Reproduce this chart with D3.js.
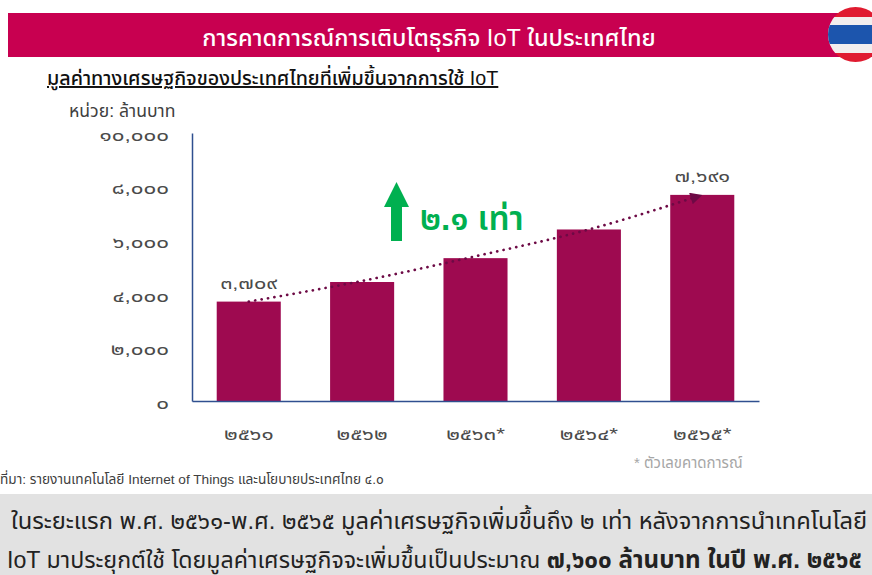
<!DOCTYPE html>
<html>
<head>
<meta charset="utf-8">
<script src="https://cdnjs.cloudflare.com/ajax/libs/d3/7.8.5/d3.min.js"></script>
<style>
body { margin: 0; background: #fff; overflow: hidden; }
text { font-family: "Liberation Sans", "Noto Sans Thai", "Noto Sans", "DejaVu Sans", sans-serif; }
</style>
</head>
<body>
<div id="myPlot"></div>
<script>
const years = ["๒๕๖๑", "๒๕๖๒", "๒๕๖๓*", "๒๕๖๔*", "๒๕๖๕*"]
const values = [3709, 4440, 5330, 6400, 7691]
const valueLabels = ["๓,๗๐๙", "", "", "", "๗,๖๙๑"]
const trend = [3709, 4480, 5400, 6400, 7691]
const yTicks = [0, 2000, 4000, 6000, 8000, 10000]
const yTickLabels = ["๐", "๒,๐๐๐", "๔,๐๐๐", "๖,๐๐๐", "๘,๐๐๐", "๑๐,๐๐๐"]

const width = 872
const height = 575

// the numerals in the original are much wider than the installed font, so stretch them
function stretch(sel, k) {
    sel.each(function() {
        const len = this.getComputedTextLength()
        if (len > 0) d3.select(this).attr("textLength", len * k).attr("lengthAdjust", "spacingAndGlyphs")
    })
}

const svg = d3.select("#myPlot").append("svg")
    .attr("width", width)
    .attr("height", height)
    .style("display", "block")

// header
svg.append("rect").attr("x", 8).attr("y", 13).attr("width", width - 8).attr("height", 44).attr("fill", "#c80050")
svg.append("text").attr("x", 429).attr("y", 46).attr("text-anchor", "middle")
    .attr("fill", "#fff").attr("font-size", 23.5).attr("font-weight", 500)
    .text("การคาดการณ์การเติบโตธุรกิจ IoT ในประเทศไทย")

// flag
const flagClip = svg.append("clipPath").attr("id", "flag")
flagClip.append("circle").attr("cx", 855.5).attr("cy", 34.5).attr("r", 27.5)
const flag = svg.append("g").attr("clip-path", "url(#flag)")
flag.append("rect").attr("x", 820).attr("y", 0).attr("width", 60).attr("height", 70).attr("fill", "#e01b30")
flag.append("rect").attr("x", 820).attr("y", 17).attr("width", 60).attr("height", 36).attr("fill", "#f2eeee")
flag.append("rect").attr("x", 820).attr("y", 25).attr("width", 60).attr("height", 19).attr("fill", "#1c55ad")

svg.append("text").attr("x", 47).attr("y", 85).attr("font-size", 19.7).attr("font-weight", 500)
    .attr("fill", "#111").attr("text-decoration", "underline")
    .text("มูลค่าทางเศรษฐกิจของประเทศไทยที่เพิ่มขึ้นจากการใช้ IoT")
svg.append("text").attr("x", 69).attr("y", 117).attr("font-size", 17.6).attr("fill", "#404040").text("หน่วย: ล้านบาท")

// chart
const x = d3.scaleBand().domain(years).range([192, 759]).paddingInner(0.435).paddingOuter(0.218)
const y = d3.scaleLinear().domain([0, 10000]).range([401, 133])

svg.selectAll(".bar")
    .data(values)
    .enter().append("rect")
    .attr("class", "bar")
    .attr("x", (d, i) => x(years[i]))
    .attr("y", d => y(d))
    .attr("width", x.bandwidth())
    .attr("height", d => y(0) - y(d))
    .attr("fill", "#9e0a50")

const yAxis = d3.axisLeft(y).tickValues(yTicks).tickSize(0).tickPadding(23)
    .tickFormat(d => yTickLabels[yTicks.indexOf(d)])
const yG = svg.append("g").attr("transform", "translate(192,0)").call(yAxis)
yG.select(".domain").attr("stroke", "#2f4f8f").attr("stroke-width", 1.5)
yG.selectAll("text").attr("font-size", 16).attr("fill", "#4a4a4a").attr("dy", "0.45em").call(stretch, 1.4)

const xAxis = d3.axisBottom(x).tickSize(0).tickPadding(28)
const xG = svg.append("g").attr("transform", "translate(0,401)").call(xAxis)
xG.select(".domain").attr("stroke", "#2f4f8f").attr("stroke-width", 1.5)
xG.selectAll("text").attr("font-size", 16).attr("fill", "#4a4a4a").call(stretch, 1.4)

svg.selectAll(".value")
    .data(values)
    .enter().append("text")
    .attr("class", "value")
    .attr("x", (d, i) => x(years[i]) + x.bandwidth() / 2)
    .attr("y", d => y(d) - 13)
    .attr("text-anchor", "middle").attr("font-size", 15.5).attr("fill", "#4a4a4a")
    .text((d, i) => valueLabels[i])
    .call(stretch, 1.4)

// dotted trend with arrowhead
svg.append("defs").append("marker").attr("id", "arrow")
    .attr("viewBox", "0 0 10 10").attr("refX", 10).attr("refY", 5)
    .attr("markerWidth", 5).attr("markerHeight", 4.4).attr("orient", "auto")
    .append("path").attr("d", "M0,0L10,5L0,10Z").attr("fill", "#6d0a45")
const trendLine = d3.line()
    .x((d, i) => x(years[i]) + x.bandwidth() / 2)
    .y(d => y(d))
    .curve(d3.curveMonotoneX)
svg.append("path").attr("d", trendLine(trend)).attr("fill", "none")
    .attr("stroke", "#6d0a45").attr("stroke-width", 2.7)
    .attr("stroke-linecap", "round")
    .attr("stroke-dasharray", "0.1 6.4").attr("marker-end", "url(#arrow)")

// growth callout
svg.append("path").attr("d", "M396.5,182L409,207L402,207L402,241L391,241L391,207L384,207Z").attr("fill", "#00b050")
svg.append("text").attr("x", 420).attr("y", 230).attr("font-size", 33.4).attr("font-weight", 600)
    .attr("fill", "#00b050").text("๒.๑ เท่า")

// notes
svg.append("text").attr("x", 634).attr("y", 468).attr("font-size", 15).attr("fill", "#a6a6a6").text("* ตัวเลขคาดการณ์")
svg.append("text").attr("x", 0).attr("y", 484).attr("font-size", 13.65).attr("fill", "#404040")
    .text("ที่มา: รายงานเทคโนโลยี Internet of Things และนโยบายประเทศไทย ๔.๐")

// summary band
svg.append("rect").attr("x", 0).attr("y", 494).attr("width", width).attr("height", 81).attr("fill", "#e2e2e2")
svg.append("text").attr("x", 11).attr("y", 529).attr("font-size", 23.7).attr("fill", "#222")
    .text("ในระยะแรก พ.ศ. ๒๕๖๑-พ.ศ. ๒๕๖๕ มูลค่าเศรษฐกิจเพิ่มขึ้นถึง ๒ เท่า หลังจากการนำเทคโนโลยี")
const last = svg.append("text").attr("x", 7).attr("y", 568).attr("font-size", 23.2).attr("fill", "#222")
last.append("tspan").text("IoT มาประยุกต์ใช้ โดยมูลค่าเศรษฐกิจจะเพิ่มขึ้นเป็นประมาณ ")
last.append("tspan").attr("font-weight", 700).attr("font-size", 24.2).text("๗,๖๐๐ ล้านบาท ในปี พ.ศ. ๒๕๖๕")
</script>
</body>
</html>
